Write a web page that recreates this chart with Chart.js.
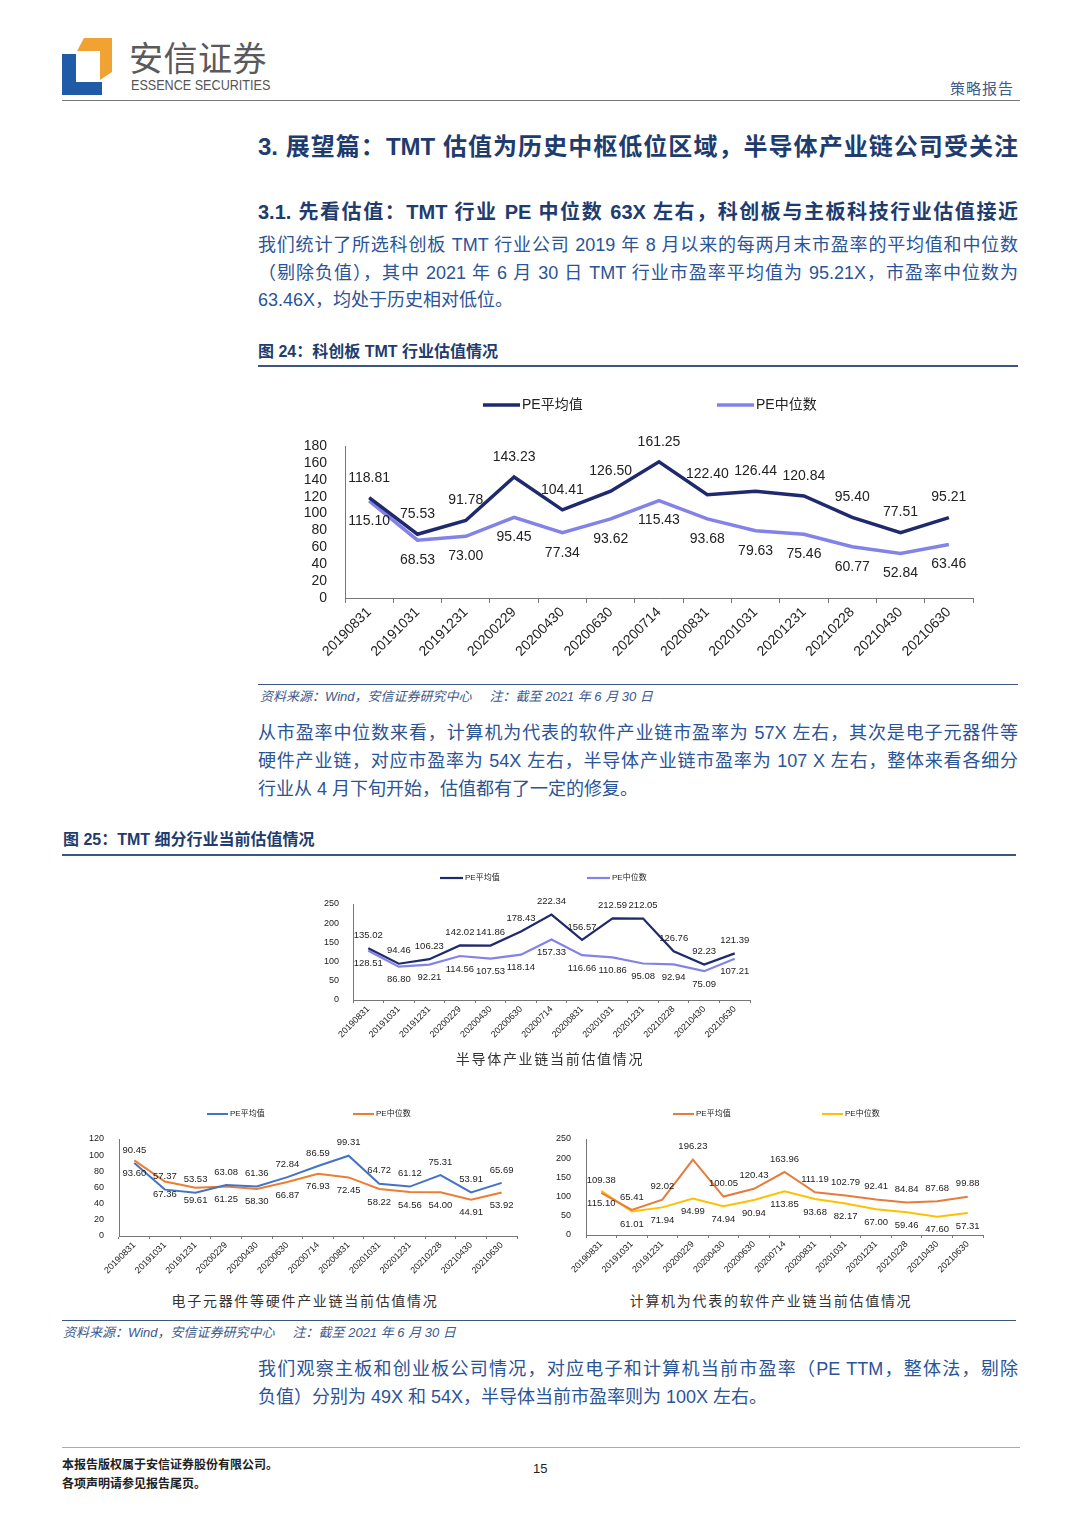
<!DOCTYPE html>
<html lang="zh">
<head>
<meta charset="UTF-8">
<title>策略报告 - TMT估值</title>
<script src="https://cdn.jsdelivr.net/npm/chart.js"></script>
<style>
  html, body { margin: 0; padding: 0; background: #fff; }
  body { width: 1080px; height: 1527px; position: relative; overflow: hidden;
         font-family: "Liberation Sans", "Noto Sans CJK SC", sans-serif; }
  .t { position: absolute; white-space: nowrap; line-height: 1; }
  .j { text-align: justify; text-align-last: justify; }
  .para { color: #2b5496; font-size: 18px; }
  .hline { position: absolute; height: 0; }
  .box { position: absolute; }
  .cap { color: #333; font-size: 14px; letter-spacing: 1.7px; transform: translateX(-50%); }
  .src { color: #3d5a8a; font-size: 13px; font-style: italic; }
</style>
</head>
<body>

<!-- header -->
<svg class="box" style="left:60px;top:36px" width="56" height="62">
  <polygon points="2,18 16,18 16,46 42,46 42,59 2,59" fill="#1f5ba6"/>
  <polygon points="24,2 52,2 52,36 40,44 40,15 17,15" fill="#f0a232"/>
</svg>
<div class="t" style="left:129px;top:40px;font-size:34px;color:#5a5a5a;letter-spacing:0.5px;font-family:'Noto Sans CJK SC'">安信证券</div>
<div class="t" style="left:131px;top:78px;font-size:14px;color:#555;transform:scaleX(0.9);transform-origin:left">ESSENCE SECURITIES</div>
<div class="t" style="left:950px;top:81px;font-size:15px;color:#3d5a8a;letter-spacing:1px">策略报告</div>
<div class="hline" style="left:62px;top:100px;width:958px;border-top:1.5px solid #777"></div>

<!-- section titles -->
<div class="t j" style="left:258px;top:135px;width:760px;font-size:24px;font-weight:bold;color:#1f3c6e">3. 展望篇：TMT 估值为历史中枢低位区域，半导体产业链公司受关注</div>
<div class="t j" style="left:258px;top:202px;width:760px;font-size:20px;font-weight:bold;color:#1f3c6e">3.1. 先看估值：TMT 行业 PE 中位数 63X 左右，科创板与主板科技行业估值接近</div>

<div class="t j para" style="left:258px;top:236px;width:760px">我们统计了所选科创板 TMT 行业公司 2019 年 8 月以来的每两月末市盈率的平均值和中位数</div>
<div class="t j para" style="left:258px;top:264px;width:760px">（剔除负值），其中 2021 年 6 月 30 日 TMT 行业市盈率平均值为 95.21X，市盈率中位数为</div>
<div class="t para" style="left:258px;top:291px">63.46X，均处于历史相对低位。</div>

<div class="t" style="left:258px;top:344px;font-size:16px;font-weight:bold;color:#1f3c6e">图 24：科创板 TMT 行业估值情况</div>
<div class="hline" style="left:258px;top:365px;width:760px;border-top:2px solid #3b5683"></div>

<div class="box" style="left:300px;top:385px;width:690px;height:290px"><canvas id="c24"></canvas></div>

<div class="hline" style="left:258px;top:684px;width:760px;border-top:1.5px solid #3b5683"></div>
<div class="t src" style="left:260px;top:690px">资料来源：Wind，安信证券研究中心&nbsp;&nbsp;&nbsp;&nbsp;&nbsp;注：截至 2021 年 6 月 30 日</div>

<div class="t j para" style="left:258px;top:724px;width:760px">从市盈率中位数来看，计算机为代表的软件产业链市盈率为 57X 左右，其次是电子元器件等</div>
<div class="t j para" style="left:258px;top:752px;width:760px">硬件产业链，对应市盈率为 54X 左右，半导体产业链市盈率为 107 X 左右，整体来看各细分</div>
<div class="t para" style="left:258px;top:780px">行业从 4 月下旬开始，估值都有了一定的修复。</div>

<div class="t" style="left:63px;top:832px;font-size:16px;font-weight:bold;color:#1f3c6e">图 25：TMT 细分行业当前估值情况</div>
<div class="hline" style="left:62px;top:854px;width:954px;border-top:2px solid #3b5683"></div>

<div class="box" style="left:320px;top:865px;width:440px;height:190px"><canvas id="c25a"></canvas></div>
<div class="t cap" style="left:550px;top:1052px">半导体产业链当前估值情况</div>

<div class="box" style="left:62px;top:1100px;width:470px;height:180px"><canvas id="c25b"></canvas></div>
<div class="t cap" style="left:305px;top:1294px">电子元器件等硬件产业链当前估值情况</div>

<div class="box" style="left:545px;top:1100px;width:470px;height:180px"><canvas id="c25c"></canvas></div>
<div class="t cap" style="left:771px;top:1294px">计算机为代表的软件产业链当前估值情况</div>

<div class="hline" style="left:62px;top:1320px;width:954px;border-top:1.5px solid #3b5683"></div>
<div class="t src" style="left:63px;top:1326px">资料来源：Wind，安信证券研究中心&nbsp;&nbsp;&nbsp;&nbsp;&nbsp;注：截至 2021 年 6 月 30 日</div>

<div class="t j para" style="left:258px;top:1360px;width:760px">我们观察主板和创业板公司情况，对应电子和计算机当前市盈率（PE TTM，整体法，剔除</div>
<div class="t para" style="left:258px;top:1388px">负值）分别为 49X 和 54X，半导体当前市盈率则为 100X 左右。</div>

<!-- footer -->
<div class="hline" style="left:62px;top:1447px;width:958px;border-top:1.5px solid #aaa"></div>
<div class="t" style="left:62px;top:1459px;font-size:12px;font-weight:bold;color:#222">本报告版权属于安信证券股份有限公司。</div>
<div class="t" style="left:62px;top:1478px;font-size:12px;font-weight:bold;color:#222">各项声明请参见报告尾页。</div>
<div class="t" style="left:533px;top:1462px;font-size:13px;color:#222">15</div>

<script>
// dates shared by all four charts
const dates = ['20190831', '20191031', '20191231', '20200229', '20200430', '20200630', '20200714',
               '20200831', '20201031', '20201231', '20210228', '20210430', '20210630'];

// 图24 科创板 TMT
const tmtAvg = [118.81, 75.53, 91.78, 143.23, 104.41, 126.50, 161.25, 122.40, 126.44, 120.84, 95.40, 77.51, 95.21];
const tmtMed = [115.10, 68.53, 73.00, 95.45, 77.34, 93.62, 115.43, 93.68, 79.63, 75.46, 60.77, 52.84, 63.46];

// 半导体
const semiAvg = [135.02, 94.46, 106.23, 142.02, 141.86, 178.43, 222.34, 156.57, 212.59, 212.05, 126.76, 92.23, 121.39];
const semiMed = [128.51, 86.80, 92.21, 114.56, 107.53, 118.14, 157.33, 116.66, 110.86, 95.08, 92.94, 75.09, 107.21];

// 电子元器件等硬件
const hwAvg = [90.45, 57.37, 53.53, 63.08, 61.36, 72.84, 86.59, 99.31, 64.72, 61.12, 75.31, 53.91, 65.69];
const hwMed = [93.60, 67.36, 59.61, 61.25, 58.30, 66.87, 76.93, 72.45, 58.22, 54.56, 54.00, 44.91, 53.92];

// 计算机软件
const swAvg = [109.38, 65.41, 92.02, 196.23, 100.05, 120.43, 163.96, 111.19, 102.79, 92.41, 84.84, 87.68, 99.88];
const swMed = [115.10, 61.01, 71.94, 94.99, 74.94, 90.94, 113.85, 93.68, 82.17, 67.00, 59.46, 47.60, 57.31];

const seriesNames = ['PE平均值', 'PE中位数'];

Chart.defaults.font.family = '"Liberation Sans", "Noto Sans CJK SC", sans-serif';
Chart.defaults.color = '#222';

// numbers next to each point, above or below
const valueLabels = {
    id: 'valueLabels',
    afterDatasetsDraw(chart, args, o) {
        const ctx = chart.ctx;
        ctx.save();
        ctx.font = o.size + 'px "Liberation Sans", Arial';
        ctx.fillStyle = '#222';
        ctx.textAlign = 'center';
        ctx.textBaseline = 'middle';
        chart.data.datasets.forEach((ds, i) => {
            const meta = chart.getDatasetMeta(i);
            const dy = ds.labelPos === 'below' ? o.offset : -o.offset;
            meta.data.forEach((pt, j) => {
                ctx.fillText(ds.data[j].toFixed(2), pt.x, pt.y + dy);
            });
        });
        ctx.restore();
    }
};

// excel-like legend: short line + text, at fixed x spots
const lineLegend = {
    id: 'lineLegend',
    afterDraw(chart, args, o) {
        const ctx = chart.ctx;
        ctx.save();
        ctx.font = o.size + 'px "Liberation Sans", "Noto Sans CJK SC"';
        ctx.textBaseline = 'middle';
        chart.data.datasets.forEach((ds, i) => {
            const x = o.items[i];
            ctx.strokeStyle = ds.borderColor;
            ctx.lineWidth = o.lineWidth;
            ctx.beginPath();
            ctx.moveTo(x, o.y);
            ctx.lineTo(x + o.lineLen, o.y);
            ctx.stroke();
            ctx.fillStyle = '#222';
            ctx.fillText(ds.label, x + o.lineLen + 2, o.y);
        });
        ctx.restore();
    }
};

Chart.register(valueLabels, lineLegend);

function makeChart(id, avg, med, c) {
    const ctx = document.getElementById(id).getContext('2d');
    return new Chart(ctx, {
        type: 'line',
        data: {
            labels: dates,
            datasets: [
                { label: seriesNames[0], data: avg, borderColor: c.colors[0], borderWidth: c.lw,
                  pointRadius: 0, tension: 0, fill: false, labelPos: 'above' },
                { label: seriesNames[1], data: med, borderColor: c.colors[1], borderWidth: c.lw,
                  pointRadius: 0, tension: 0, fill: false, labelPos: 'below' }
            ]
        },
        options: {
            responsive: true,
            maintainAspectRatio: false,
            animation: false,
            layout: { padding: { top: c.padTop, right: c.padRight, bottom: 0, left: 0 } },
            plugins: {
                legend: { display: false },
                tooltip: { enabled: false },
                valueLabels: { size: c.labelSize, offset: c.labelOffset },
                lineLegend: { y: c.legendY, items: c.legendX, lineLen: c.legendLen,
                              lineWidth: c.lw, size: c.legendSize }
            },
            scales: {
                x: {
                    offset: true,
                    grid: { display: true, drawOnChartArea: false, drawTicks: true,
                            tickLength: c.tickLen, offset: true, color: '#777' },
                    border: { display: true, color: '#777', width: 1 },
                    ticks: { minRotation: 45, maxRotation: 45, autoSkip: false,
                             padding: 1, font: { size: c.tickSize } },
                    afterFit: s => { s.height = c.xHeight; }
                },
                y: {
                    min: 0, max: c.yMax,
                    grid: { display: false },
                    border: { display: true, color: '#777', width: 1 },
                    ticks: { stepSize: c.yStep, autoSkip: false, padding: c.yPad,
                             font: { size: c.tickSize } },
                    afterFit: s => { s.width = c.yWidth; }
                }
            }
        }
    });
}

makeChart('c24', tmtAvg, tmtMed, {
    colors: ['#1f2a6e', '#8282e8'], lw: 3.5,
    padTop: 61, padRight: 17, yWidth: 45, xHeight: 77, yMax: 180, yStep: 20, yPad: 10,
    tickSize: 14, tickLen: 5, labelSize: 14, labelOffset: 20,
    legendY: 20, legendX: [183, 417], legendLen: 37, legendSize: 14
});

makeChart('c25a', semiAvg, semiMed, {
    colors: ['#1f2a6e', '#8282e8'], lw: 2.2,
    padTop: 39, padRight: 10, yWidth: 33, xHeight: 55, yMax: 250, yStep: 50, yPad: 6,
    tickSize: 9, tickLen: 3, labelSize: 9.5, labelOffset: 13,
    legendY: 13, legendX: [120, 267], legendLen: 23, legendSize: 8
});

makeChart('c25b', hwAvg, hwMed, {
    colors: ['#4472c4', '#ed7d31'], lw: 2,
    padTop: 39, padRight: 15, yWidth: 57, xHeight: 44, yMax: 120, yStep: 20, yPad: 7,
    tickSize: 9, tickLen: 3, labelSize: 9.5, labelOffset: 13,
    legendY: 14, legendX: [145, 291], legendLen: 21, legendSize: 8
});

makeChart('c25c', swAvg, swMed, {
    colors: ['#e57c3c', '#ffc000'], lw: 2,
    padTop: 39, padRight: 32, yWidth: 41, xHeight: 45, yMax: 250, yStep: 50, yPad: 7,
    tickSize: 9, tickLen: 3, labelSize: 9.5, labelOffset: 13,
    legendY: 14, legendX: [128, 277], legendLen: 21, legendSize: 8
});
</script>
</body>
</html>
